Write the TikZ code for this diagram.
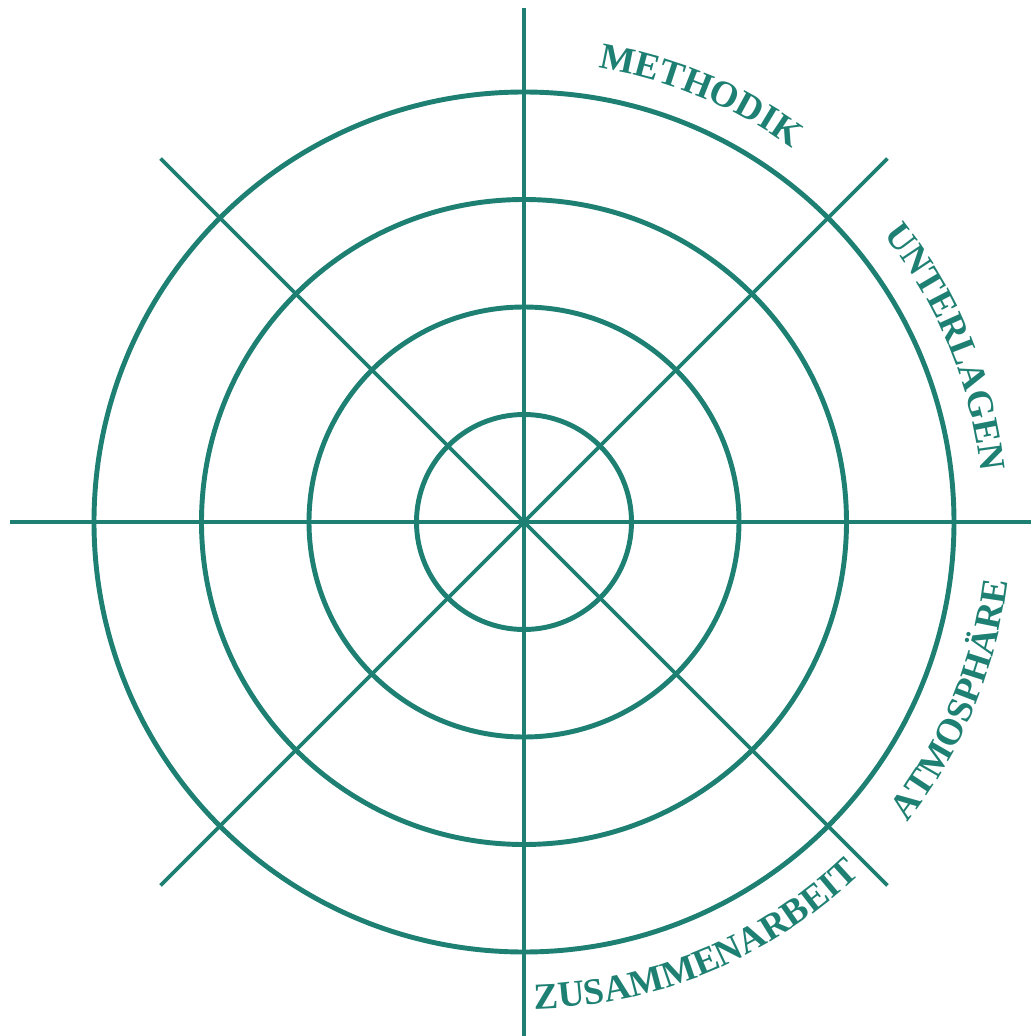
\documentclass[tikz,border=0pt]{standalone}
\usepackage{fontspec}
\setmainfont{Liberation Serif}
\usepackage{xcolor}
\usepackage{tikz}
\usetikzlibrary{decorations.text}
\definecolor{wheel}{RGB}{30,128,115}
\newcommand{\wheelfont}{\fontsize{21}{24}\selectfont\bfseries\color{wheel}}
\tikzset{
  ring/.style={draw=wheel, line width=2.8pt},
  spoke/.style={draw=wheel, line width=2.1pt},
  arclabel/.style={decorate, decoration={text along path, text align=center, text={|\wheelfont|#1}}}
}

\begin{document}
\begin{tikzpicture}
  \useasboundingbox (-10.48,-10.28) rectangle (10.12,10.44);

  % spokes and rings
  \foreach \a in {0,45,...,315}
    \draw[spoke] (0,0) -- (\a:10.28);
  \foreach \r in {2.15,4.3,6.45,8.6}
    \draw[ring] (0,0) circle[radius=\r];

  % labels round the outer ring
  \path[arclabel=METHODIK] (90:9.2) arc[start angle=90, end angle=45, radius=9.2];
  \path[arclabel=UNTERLAGEN] (45:9.2) arc[start angle=45, end angle=0, radius=9.2];
  \path[arclabel=ATMOSPHÄRE] (-45:9.74) arc[start angle=-45, end angle=0, radius=9.74];
  \path[arclabel=ZUSAMMENARBEIT] (-90:9.74) arc[start angle=-90, end angle=-45, radius=9.74];
\end{tikzpicture}
\end{document}
